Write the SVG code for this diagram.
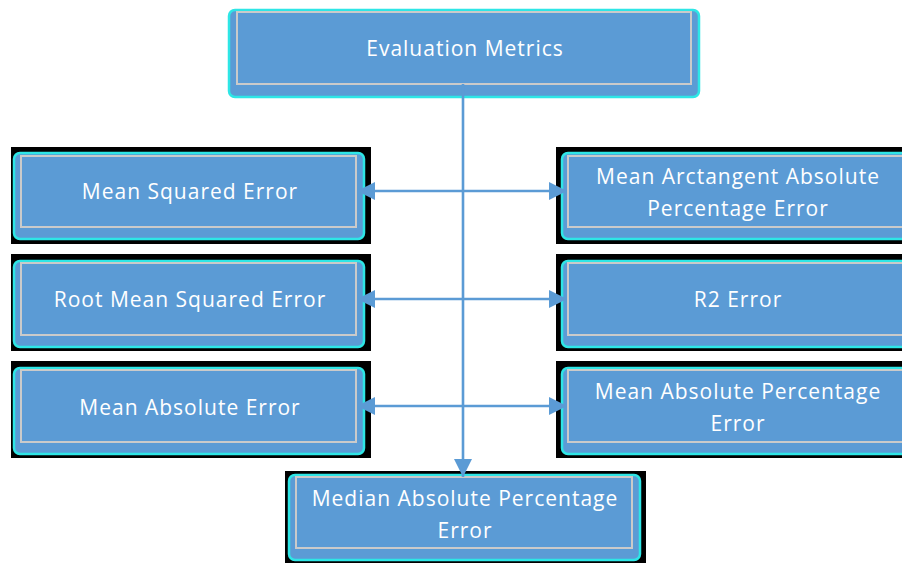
<svg xmlns="http://www.w3.org/2000/svg" width="902" height="563" viewBox="0 0 902 563">
  <defs>
    <style>
      .bg { fill: #000000; }
      .shape { fill: #5B9BD5; stroke: #2EE6E6; stroke-width: 2.5; }
      .inner { fill: none; stroke: #CACACA; stroke-width: 2; }
      .label { font-family: "Open Sans", "Liberation Sans", sans-serif; font-size: 21px; letter-spacing: 1px; fill: #FFFFFF; text-anchor: middle; dominant-baseline: central; }
      .link { fill: none; stroke: #5B9BD5; stroke-width: 2.6; }
    </style>
    <marker id="arrow" viewBox="0 0 18 18" refX="18" refY="9" markerWidth="18" markerHeight="18" markerUnits="userSpaceOnUse" orient="auto-start-reverse">
      <path d="M0,0 L18,9 L0,18 Z" fill="#5B9BD5"/>
    </marker>
  </defs>

  <rect width="902" height="563" fill="#FFFFFF"/>

  <!-- root metric group -->
  <g id="evaluation-metrics">
    <rect class="shape" x="229" y="10" width="470" height="87" rx="6"/>
    <rect class="inner" x="237" y="12" width="454" height="72"/>
    <text class="label" x="465" y="48">Evaluation Metrics</text>
  </g>

  <!-- left column -->
  <g id="mse">
    <rect class="bg" x="11" y="147" width="360" height="97"/>
    <rect class="shape" x="14" y="153" width="350" height="86" rx="6"/>
    <rect class="inner" x="21" y="156" width="335" height="71"/>
    <text class="label" x="190" y="191">Mean Squared Error</text>
  </g>
  <g id="rmse">
    <rect class="bg" x="11" y="254" width="360" height="97"/>
    <rect class="shape" x="14" y="261" width="350" height="86" rx="6"/>
    <rect class="inner" x="21" y="263" width="335" height="72"/>
    <text class="label" x="190" y="299">Root Mean Squared Error</text>
  </g>
  <g id="mae">
    <rect class="bg" x="11" y="361" width="360" height="97"/>
    <rect class="shape" x="14" y="368" width="350" height="86" rx="6"/>
    <rect class="inner" x="21" y="370" width="335" height="72"/>
    <text class="label" x="190" y="407">Mean Absolute Error</text>
  </g>

  <!-- right column -->
  <g id="maape">
    <rect class="bg" x="556" y="147" width="362" height="97"/>
    <rect class="shape" x="562" y="153" width="350" height="86" rx="6"/>
    <rect class="inner" x="568" y="156" width="335" height="71"/>
    <text class="label" x="738" y="176">Mean Arctangent Absolute</text>
    <text class="label" x="738" y="208">Percentage Error</text>
  </g>
  <g id="r2">
    <rect class="bg" x="556" y="254" width="362" height="97"/>
    <rect class="shape" x="562" y="261" width="350" height="86" rx="6"/>
    <rect class="inner" x="568" y="263" width="335" height="72"/>
    <text class="label" x="738" y="299">R2 Error</text>
  </g>
  <g id="mape">
    <rect class="bg" x="556" y="361" width="362" height="97"/>
    <rect class="shape" x="562" y="368" width="350" height="86" rx="6"/>
    <rect class="inner" x="568" y="370" width="335" height="72"/>
    <text class="label" x="738" y="391">Mean Absolute Percentage</text>
    <text class="label" x="738" y="423">Error</text>
  </g>

  <!-- bottom -->
  <g id="mdape">
    <rect class="bg" x="285" y="471" width="361" height="92"/>
    <rect class="shape" x="289" y="475" width="351" height="85" rx="6"/>
    <rect class="inner" x="296" y="477" width="336" height="71"/>
    <text class="label" x="465" y="498">Median Absolute Percentage</text>
    <text class="label" x="465" y="530">Error</text>
  </g>

  <!-- connectors -->
  <g id="connectors">
    <line class="link" x1="463" y1="84" x2="463" y2="477" marker-end="url(#arrow)"/>
    <line class="link" x1="357" y1="191" x2="567" y2="191" marker-start="url(#arrow)" marker-end="url(#arrow)"/>
    <line class="link" x1="357" y1="299" x2="567" y2="299" marker-start="url(#arrow)" marker-end="url(#arrow)"/>
    <line class="link" x1="357" y1="406" x2="567" y2="406" marker-start="url(#arrow)" marker-end="url(#arrow)"/>
  </g>
</svg>
